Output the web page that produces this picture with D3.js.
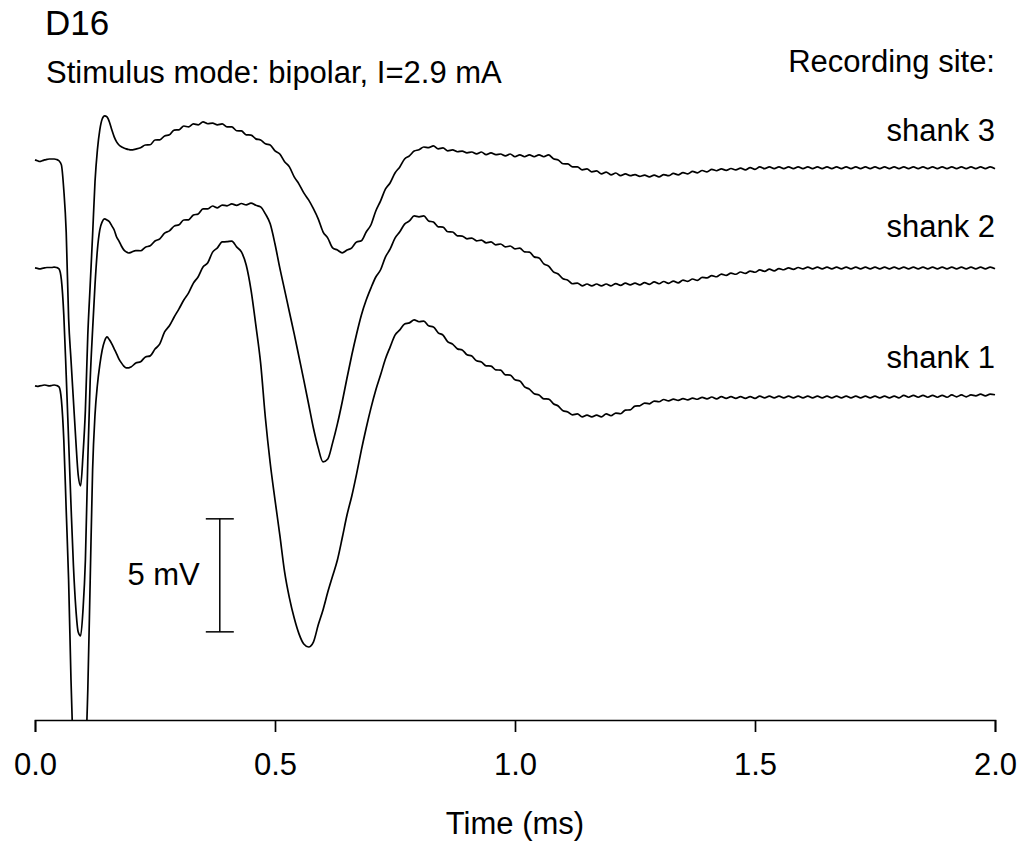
<!DOCTYPE html>
<html>
<head>
<meta charset="utf-8">
<script src="https://cdn.jsdelivr.net/npm/d3@7"></script>
<style>
  body { margin: 0; background: #fff; }
  svg { display: block; }
  text { font-family: "Liberation Sans", Arial, sans-serif; fill: #000; }
</style>
</head>
<body>
<svg id="chart"></svg>
<script>
// Evoked responses, one trace per shank (mV relative to each trace's own baseline)
var width = 1021;
var height = 844;

// Sample clock: 5 us steps through the stimulus artefact, then 10 us steps
var timeMs = d3.range(0, 0.2001, 0.005).concat(d3.range(0.21, 2.0001, 0.01));

var shankNames = ["shank 1", "shank 2", "shank 3"];
var shankOffsetsMv = [0, 5.22, 10.0];   // vertical stacking of the traces

var shank1Mv = [
  0, -0.02, 0, 0.02, 0.04, 0.02, 0, 0.02, 0.04, 0.02,
  -0.04, -0.62, -2.39, -5.49, -8.58, -13.01, -16.55, -18.32, -19.20, -18.98,
  -18.32, -16.55, -13.45, -8.58, -3.72, -1.28, 0.04, 0.93, 1.59, 1.99,
  2.17, 2.04, 1.86, 1.64, 1.42, 1.19, 1.02, 0.88, 0.80, 0.80,
  0.84,
  1.01, 1.07, 1.28, 1.33, 1.63, 1.86, 2.39, 2.66, 3.05, 3.41,
  3.80, 4.12, 4.55, 4.83, 5.26, 5.45, 5.92, 6.11, 6.37, 6.38,
  6.41, 6.15, 5.93, 5.35, 4.25, 2.70, 1.02, -1.42, -3.41, -5.04,
  -6.59, -8.23, -9.38, -10.27, -10.97, -11.42, -11.55, -11.33, -10.58, -9.91,
  -9.12, -8.41, -7.70, -6.73, -5.71, -4.87, -3.89, -2.83, -1.86, -0.97,
  -0.18, 0.49, 1.19, 1.73, 2.25, 2.48, 2.74, 2.79, 2.92, 2.84,
  2.87, 2.66, 2.61, 2.35, 2.25, 1.95, 1.85, 1.64, 1.59, 1.38,
  1.32, 1.11, 1.06, 0.89, 0.88, 0.71, 0.70, 0.49, 0.48, 0.27,
  0.22, -0.04, -0.14, -0.35, -0.40, -0.57, -0.58, -0.79, -0.89, -1.10,
  -1.15, -1.28, -1.24, -1.37, -1.29, -1.37, -1.29, -1.37, -1.24, -1.32,
  -1.20, -1.23, -1.07, -1.06, -0.89, -0.88, -0.76, -0.79, -0.67, -0.70,
  -0.60, -0.66, -0.58, -0.64, -0.56, -0.62, -0.54, -0.59, -0.51, -0.57,
  -0.49, -0.57, -0.47, -0.55, -0.47, -0.55, -0.47, -0.55, -0.47, -0.55,
  -0.45, -0.53, -0.45, -0.53, -0.45, -0.53, -0.45, -0.53, -0.45, -0.53,
  -0.45, -0.53, -0.45, -0.53, -0.45, -0.53, -0.45, -0.53, -0.45, -0.53,
  -0.45, -0.53, -0.45, -0.53, -0.45, -0.53, -0.45, -0.53, -0.45, -0.53,
  -0.42, -0.50, -0.42, -0.50, -0.42, -0.50, -0.42, -0.50, -0.42, -0.50,
  -0.40, -0.48, -0.40, -0.48, -0.40, -0.44, -0.36, -0.44, -0.36, -0.39
];

var shank2Mv = [
  0, -0.02, -0.04, -0.02, 0, 0.02, 0.02, 0.02, 0.04, 0.02,
  -0.04, -0.53, -2.08, -4.73, -7.61, -10.49, -13.14, -15.04, -16.11, -16.28,
  -15.13, -12.92, -8.50, -4.96, -2.74, -0.75, 0.80, 1.68, 2.04, 2.17,
  2.12, 2.04, 1.86, 1.68, 1.37, 1.19, 0.97, 0.80, 0.71, 0.66,
  0.69,
  0.77, 0.76, 0.92, 0.98, 1.19, 1.29, 1.54, 1.64, 1.85, 1.91,
  2.12, 2.13, 2.34, 2.39, 2.61, 2.61, 2.74, 2.66, 2.78, 2.75,
  2.83, 2.77, 2.85, 2.79, 2.87, 2.77, 2.70, 2.39, 1.95, 1.06,
  0, -0.97, -1.95, -2.92, -3.94, -4.96, -6.02, -7.08, -7.96, -8.58,
  -8.45, -7.74, -6.90, -5.93, -4.87, -3.85, -2.92, -2.08, -1.42, -0.88,
  -0.40, -0.08, 0.48, 0.84, 1.32, 1.60, 1.94, 2.08, 2.30, 2.26,
  2.30, 2.08, 2.03, 1.82, 1.81, 1.60, 1.59, 1.42, 1.41, 1.29,
  1.32, 1.20, 1.23, 1.11, 1.15, 1.02, 1.06, 0.93, 0.97, 0.84,
  0.88, 0.71, 0.70, 0.49, 0.44, 0.18, 0.08, -0.17, -0.27, -0.48,
  -0.54, -0.70, -0.67, -0.79, -0.71, -0.79, -0.71, -0.79, -0.71, -0.79,
  -0.69, -0.77, -0.67, -0.75, -0.67, -0.75, -0.65, -0.73, -0.62, -0.70,
  -0.60, -0.68, -0.58, -0.66, -0.54, -0.59, -0.49, -0.55, -0.42, -0.44,
  -0.34, -0.39, -0.27, -0.33, -0.23, -0.28, -0.18, -0.24, -0.14, -0.19,
  -0.09, -0.15, -0.05, -0.13, -0.03, -0.08, 0.00, -0.06, 0.02, -0.04,
  0.04, -0.04, 0.04, -0.04, 0.04, -0.04, 0.04, -0.04, 0.04, -0.04,
  0.04, -0.04, 0.04, -0.04, 0.04, -0.04, 0.04, -0.04, 0.04, -0.04,
  0.04, -0.04, 0.04, -0.04, 0.04, -0.04, 0.04, -0.04, 0.04, -0.04,
  0.04, -0.04, 0.04, -0.04, 0.04, -0.04, 0.04, -0.04, 0.04, -0.04
];

var shank3Mv = [
  0, -0.04, -0.07, -0.04, 0, 0.02, 0.04, 0.04, 0.04, 0.02,
  -0.04, -0.22, -1.33, -3.19, -6.99, -8.85, -10.62, -12.39, -13.94, -14.42,
  -13.05, -11.06, -7.74, -5.53, -3.32, -0.97, 0.44, 1.33, 1.81, 1.95,
  1.90, 1.68, 1.33, 1.02, 0.80, 0.66, 0.58, 0.53, 0.49, 0.46,
  0.44,
  0.48, 0.54, 0.66, 0.67, 0.88, 0.89, 1.06, 1.11, 1.32, 1.33,
  1.50, 1.46, 1.59, 1.55, 1.68, 1.60, 1.63, 1.55, 1.59, 1.46,
  1.46, 1.29, 1.28, 1.11, 1.10, 0.93, 0.88, 0.71, 0.66, 0.40,
  0.26, -0.08, -0.31, -0.75, -1.07, -1.46, -1.77, -2.16, -2.61, -3.18,
  -3.46, -3.89, -3.99, -4.11, -3.99, -3.89, -3.63, -3.58, -3.19, -2.87,
  -2.26, -1.81, -1.29, -1.01, -0.58, -0.31, 0.04, 0.18, 0.39, 0.45,
  0.57, 0.54, 0.62, 0.49, 0.53, 0.40, 0.44, 0.36, 0.39, 0.31,
  0.35, 0.27, 0.35, 0.23, 0.31, 0.23, 0.26, 0.18, 0.26, 0.14,
  0.22, 0.14, 0.22, 0.14, 0.22, 0.14, 0.22, 0.05, 0.00, -0.17,
  -0.18, -0.31, -0.31, -0.44, -0.40, -0.53, -0.49, -0.62, -0.54, -0.66,
  -0.58, -0.70, -0.62, -0.70, -0.65, -0.73, -0.67, -0.75, -0.67, -0.75,
  -0.65, -0.70, -0.60, -0.66, -0.56, -0.62, -0.51, -0.57, -0.47, -0.53,
  -0.42, -0.48, -0.40, -0.46, -0.38, -0.44, -0.36, -0.44, -0.34, -0.42,
  -0.31, -0.39, -0.31, -0.39, -0.31, -0.39, -0.31, -0.39, -0.31, -0.39,
  -0.31, -0.39, -0.31, -0.39, -0.31, -0.39, -0.31, -0.39, -0.31, -0.39,
  -0.31, -0.39, -0.31, -0.39, -0.31, -0.39, -0.31, -0.39, -0.31, -0.39,
  -0.31, -0.39, -0.31, -0.39, -0.31, -0.39, -0.31, -0.39, -0.31, -0.39,
  -0.31, -0.39, -0.31, -0.39, -0.31, -0.39, -0.31, -0.39, -0.31, -0.39
];

var xTicks = [0, 0.5, 1.0, 1.5, 2.0];
var scaleBarMv = 5;          // length of the calibration bar
var scaleBarTimeMs = 0.385;  // where the bar sits
var scaleBarTopMv = -5.88;

var svg = d3.select("#chart")
    .attr("width", width)
    .attr("height", height);

// 22.6 px per mV; shank 1 baseline at y=386
var x = d3.scaleLinear().domain([0, 2]).range([35, 995]);
var y = d3.scaleLinear().domain([-14.78, 12.65]).range([720, 100]);

svg.append("clipPath").attr("id", "plotClip")
    .append("rect")
    .attr("x", 0).attr("y", 0)
    .attr("width", width).attr("height", y(-14.78));

var traces = [shank1Mv, shank2Mv, shank3Mv].map(function (vals, i) {
    return {
        name: shankNames[i],
        offset: shankOffsetsMv[i],
        points: vals.map(function (v, j) { return [timeMs[j], v + shankOffsetsMv[i]]; })
    };
});

var line = d3.line()
    .x(function (d) { return x(d[0]); })
    .y(function (d) { return y(d[1]); })
    .curve(d3.curveMonotoneX);

svg.append("g")
    .attr("clip-path", "url(#plotClip)")
    .selectAll("path")
    .data(traces)
    .enter().append("path")
    .attr("d", function (d) { return line(d.points); })
    .attr("fill", "none")
    .attr("stroke", "#000")
    .attr("stroke-width", 1.7)
    .attr("stroke-linejoin", "round");

// Trace labels, right aligned
var labelBaselines = [368, 237, 141];
svg.selectAll("text.shank")
    .data(traces)
    .enter().append("text")
    .attr("class", "shank")
    .attr("x", 995)
    .attr("y", function (d, i) { return labelBaselines[i]; })
    .attr("text-anchor", "end")
    .style("font-size", "31px")
    .text(function (d) { return d.name; });

// Time axis
var xAxis = d3.axisBottom(x)
    .tickValues(xTicks)
    .tickFormat(d3.format(".1f"))
    .tickSizeOuter(0)
    .tickSize(12)
    .tickPadding(21);

var axisG = svg.append("g")
    .attr("transform", "translate(0," + y(-14.78) + ")")
    .call(xAxis);
axisG.select(".domain").attr("stroke", "#000").attr("stroke-width", 1.7);
axisG.selectAll(".tick line").attr("stroke", "#000").attr("stroke-width", 1.7);
axisG.selectAll(".tick text")
    .style("font-family", "'Liberation Sans', Arial, sans-serif")
    .style("font-size", "31px")
    .attr("fill", "#000");

svg.append("text")
    .attr("x", x(1))
    .attr("y", 834)
    .attr("text-anchor", "middle")
    .style("font-size", "31px")
    .text("Time (ms)");

// Calibration bar
var bx = x(scaleBarTimeMs);
var by0 = y(scaleBarTopMv);
var by1 = y(scaleBarTopMv - scaleBarMv);
var bar = svg.append("g").attr("stroke", "#000").attr("stroke-width", 1.5);
bar.append("line").attr("x1", bx).attr("x2", bx).attr("y1", by0).attr("y2", by1);
bar.append("line").attr("x1", bx - 14).attr("x2", bx + 14).attr("y1", by0).attr("y2", by0);
bar.append("line").attr("x1", bx - 14).attr("x2", bx + 14).attr("y1", by1).attr("y2", by1);

svg.append("text")
    .attr("x", bx - 20)
    .attr("y", (by0 + by1) / 2 + 10)
    .attr("text-anchor", "end")
    .style("font-size", "31px")
    .text(scaleBarMv + " mV");

// Titles
svg.append("text")
    .attr("x", 45).attr("y", 35)
    .style("font-size", "35px")
    .text("D16");

svg.append("text")
    .attr("x", 46).attr("y", 83)
    .style("font-size", "31px")
    .text("Stimulus mode: bipolar, I=2.9 mA");

svg.append("text")
    .attr("x", 995).attr("y", 72)
    .attr("text-anchor", "end")
    .style("font-size", "31px")
    .text("Recording site:");
</script>
</body>
</html>
